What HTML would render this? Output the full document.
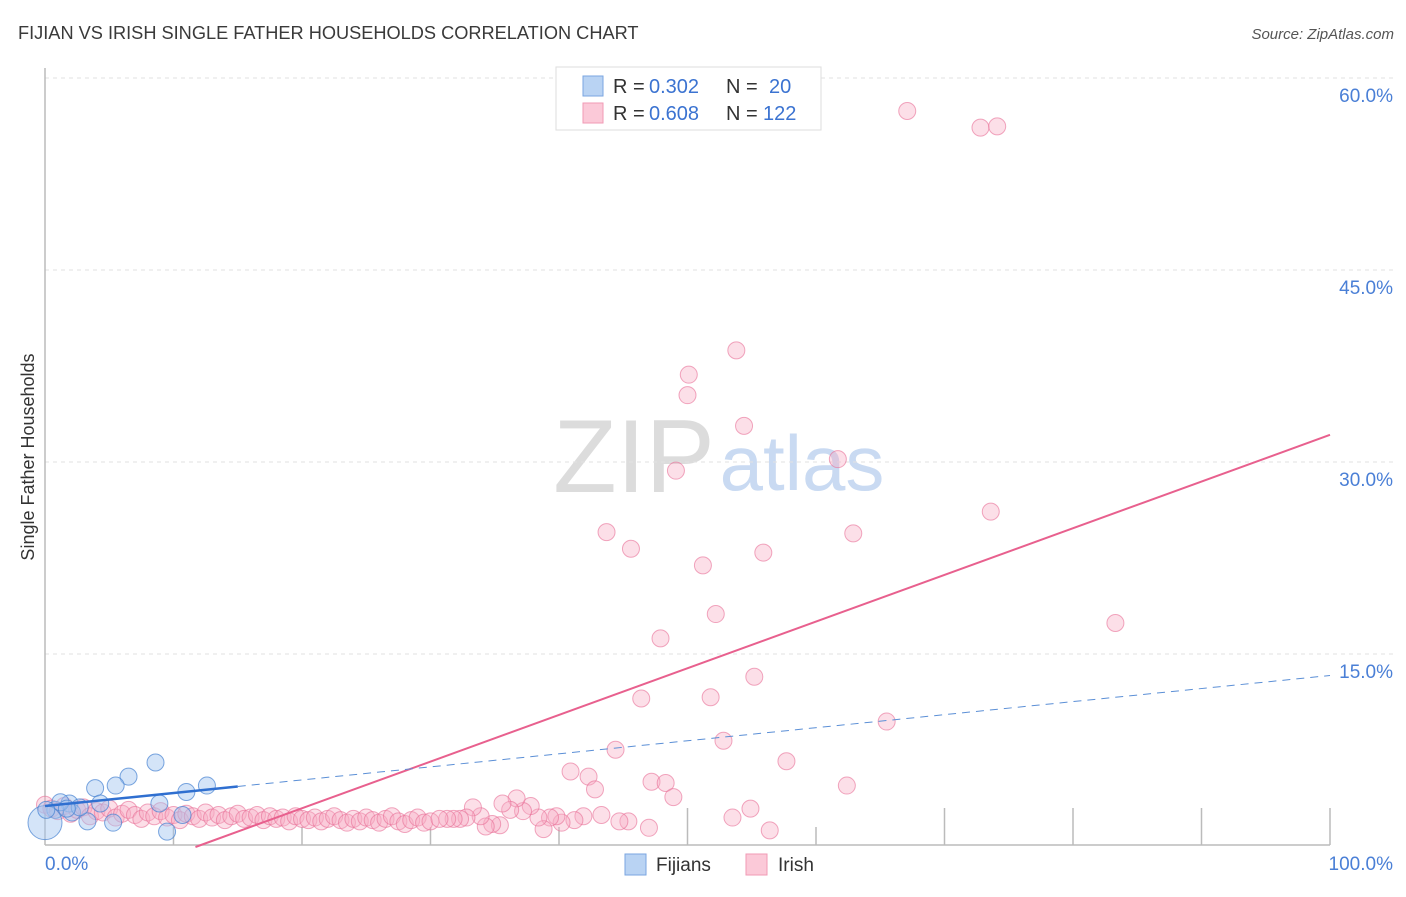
<!DOCTYPE html>
<html><head><meta charset="utf-8">
<style>
body{margin:0;background:#fff;font-family:"Liberation Sans",sans-serif;}
svg text{font-family:"Liberation Sans",sans-serif;}
</style></head>
<body>
<svg id="chart" width="1406" height="892" xmlns="http://www.w3.org/2000/svg">
<text x="18" y="39" font-size="18.2" fill="#3a3a3a">FIJIAN VS IRISH SINGLE FATHER HOUSEHOLDS CORRELATION CHART</text>
<text x="1394" y="39" font-size="15" fill="#555" text-anchor="end" font-style="italic">Source: ZipAtlas.com</text>
<text x="34" y="457" font-size="18" fill="#333" text-anchor="middle" transform="rotate(-90 34 457)">Single Father Households</text>
<g>
<text x="634" y="492" font-size="104" fill="#dcdcdc" text-anchor="middle" font-family="Liberation Serif, serif">ZIP</text>
<text x="802" y="490" font-size="78" fill="#c9daf2" text-anchor="middle">atlas</text>
</g>
<g id="grid"></g>
<g id="axes"></g>
<g id="marks"></g>
<g>
<rect x="556" y="67" width="265" height="63" fill="#fff" stroke="#ddd"/>
<rect x="583" y="76" width="20" height="20" fill="#b9d3f3" stroke="#7aa6e0"/>
<text x="613" y="93" font-size="20" fill="#333">R = </text><text x="649" y="93" font-size="20" fill="#3b73d1">0.302</text>
<text x="726" y="93" font-size="20" fill="#333">N = </text><text x="769" y="93" font-size="20" fill="#3b73d1">20</text>
<rect x="583" y="103" width="20" height="20" fill="#fbc9d8" stroke="#f09ab5"/>
<text x="613" y="120" font-size="20" fill="#333">R = </text><text x="649" y="120" font-size="20" fill="#3b73d1">0.608</text>
<text x="726" y="120" font-size="20" fill="#333">N = </text><text x="763" y="120" font-size="20" fill="#3b73d1">122</text>
</g>
<g>
<rect x="625" y="854" width="21" height="21" fill="#b9d3f3" stroke="#7aa6e0"/>
<text x="656" y="871" font-size="19" fill="#333">Fijians</text>
<rect x="746" y="854" width="21" height="21" fill="#fbc9d8" stroke="#f09ab5"/>
<text x="778" y="871" font-size="19" fill="#333">Irish</text>
</g>
</svg>
<script>
const yTicks=[15,30,45,60];
const yTickLabels=["15.0%","30.0%","45.0%","60.0%"];
const xTickLabels=["0.0%","100.0%"];
const fijiX=[8.6,6.5,5.5,3.9,12.6,11.0,8.9,4.3,1.9,0.8,0.0,2.1,3.3,5.3,10.7,9.5,1.2,2.7,1.7,0.1];
const fijiY=[6.6,5.5,4.8,4.6,4.8,4.3,3.4,3.4,3.4,2.9,1.9,2.7,2.0,1.9,2.5,1.2,3.5,3.1,3.0,2.9];
const irishX=[67.1,72.8,74.1,53.8,50.1,50.0,54.4,61.7,49.1,73.6,43.7,62.9,45.6,55.9,51.2,52.2,47.9,83.3,55.2,46.4,51.8,65.5,52.8,44.4,57.7,40.9,42.3,42.8,47.2,48.3,48.9,62.4,54.9,53.5,56.4,47.0,45.4,44.7,43.3,41.9,41.2,40.2,39.8,39.3,38.8,38.4,37.8,37.2,36.7,36.2,35.6,35.4,34.8,34.3,33.9,33.3,32.8,32.3,31.8,31.3,
0,0.5,1,1.5,2,2.5,3,3.5,4,4.5,5,5.5,6,6.5,7,7.5,8,8.5,9,9.5,10,10.5,11,11.5,12,12.5,13,13.5,14,14.5,15,15.5,16,16.5,17,17.5,18,18.5,19,19.5,20,20.5,21,21.5,22,22.5,23,23.5,24,24.5,25,25.5,26,26.5,27,27.5,28,28.5,29,29.5,30,30.7];
const irishY=[57.5,56.2,56.3,38.8,36.9,35.3,32.9,30.3,29.4,26.2,24.6,24.5,23.3,23.0,22.0,18.2,16.3,17.5,13.3,11.6,11.7,9.8,8.3,7.6,6.7,5.9,5.5,4.5,5.1,5.0,3.9,4.8,3.0,2.3,1.3,1.5,2.0,2.0,2.5,2.4,2.1,1.9,2.4,2.3,1.4,2.3,3.2,2.8,3.8,2.9,3.4,1.7,1.8,1.6,2.4,3.1,2.3,2.2,2.2,2.2,
3.3,3.0,2.8,3.2,2.6,2.9,3.1,2.4,2.8,2.7,3.0,2.3,2.6,2.9,2.5,2.2,2.7,2.4,2.8,2.3,2.5,2.1,2.6,2.4,2.2,2.7,2.3,2.5,2.1,2.4,2.6,2.2,2.3,2.5,2.1,2.4,2.2,2.3,2.0,2.4,2.2,2.1,2.3,2.0,2.2,2.4,2.1,1.9,2.2,2.0,2.3,2.1,1.9,2.2,2.4,2.0,1.8,2.1,2.3,1.9,2.0,2.2];
const fijiTrend=[3.2,0.102];
const irishTrend=[-4.27,0.3647];

const NS="http://www.w3.org/2000/svg";
const X=v=>45+v*12.85;
const Y=v=>847-v*12.8;
function mk(tag,attrs,parent){const e=document.createElementNS(NS,tag);for(const k in attrs)e.setAttribute(k,attrs[k]);document.getElementById(parent).appendChild(e);return e;}
yTicks.forEach((t,i)=>{
  const g=mk('line',{x1:45,x2:1393,y1:Y(t)-1,y2:Y(t)-1,stroke:'#e2e2e2','stroke-dasharray':'4 4'},'grid');
  
  
  const l=mk('text',{x:1393,y:Y(t)+23,'font-size':19,fill:'#4a7fd6','text-anchor':'end'},'axes');
  l.textContent=yTickLabels[i];
  
  
});
const ax=mk('line',{x1:45,x2:45,y1:68,y2:845,stroke:'#bbb','stroke-width':1.5},'axes');


const bx=mk('line',{x1:45,x2:1330,y1:845,y2:845,stroke:'#bbb','stroke-width':1.5},'axes');


for(let i=1;i<=10;i++){
  const t=mk('line',{x1:X(i*10),x2:X(i*10),y1:(i>=5&&i!=6)?808:827,y2:845,stroke:'#bbb','stroke-width':1.5},'axes');
  
  
}
const x0=mk('text',{x:45,y:870,'font-size':19,fill:'#4a7fd6'},'axes');x0.textContent=xTickLabels[0];


const x1=mk('text',{x:1393,y:870,'font-size':19,fill:'#4a7fd6','text-anchor':'end'},'axes');x1.textContent=xTickLabels[1];


irishX.forEach((v,i)=>{
  const c=mk('circle',{cx:X(v),cy:Y(irishY[i]),r:8.5,fill:'rgba(248,170,195,0.38)',stroke:'rgba(232,110,150,0.6)','stroke-width':1},'marks');
  
  
});
fijiX.forEach((v,i)=>{
  const c=mk('circle',{cx:X(v),cy:Y(fijiY[i]),r:(i==10?17:8.5),fill:'rgba(160,196,240,0.45)',stroke:'rgba(70,130,210,0.7)','stroke-width':1},'marks');
  
  
});
const it=mk('line',{x1:X(-irishTrend[0]/irishTrend[1]),y1:Y(0),x2:X(100),y2:Y(irishTrend[0]+irishTrend[1]*100),stroke:'#e8608e','stroke-width':2},'marks');


const fs=mk('line',{x1:X(0),y1:Y(fijiTrend[0]),x2:X(15),y2:Y(fijiTrend[0]+fijiTrend[1]*15),stroke:'#2f6fd0','stroke-width':2.5},'marks');


const fd=mk('line',{x1:X(15),y1:Y(fijiTrend[0]+fijiTrend[1]*15),x2:X(100),y2:Y(fijiTrend[0]+fijiTrend[1]*100),stroke:'#5b8fd6','stroke-width':1,'stroke-dasharray':'8 6'},'marks');


</script>
</body></html>
